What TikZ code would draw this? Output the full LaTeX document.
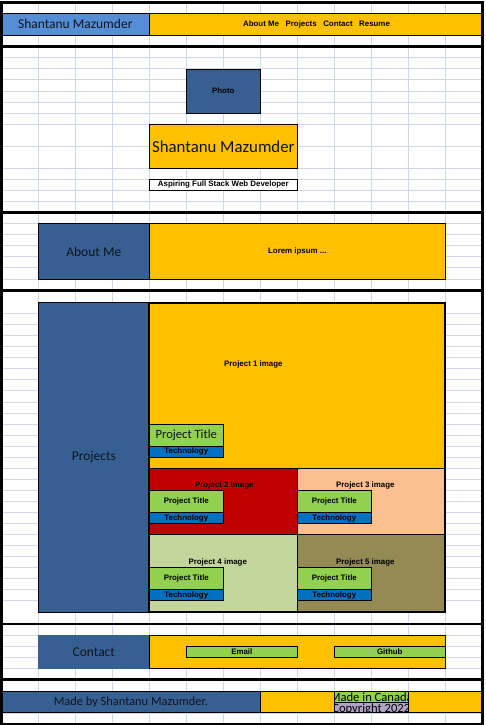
\documentclass[tikz,border=0pt]{standalone}
\usepackage{fontspec}
\setmainfont{Carlito}
\newfontfamily\pxfont{Liberation Sans}
\definecolor{gridc}{HTML}{D0D7E5}
\definecolor{hdrblue}{HTML}{558ED5}
\definecolor{dblue}{HTML}{376092}
\definecolor{gold}{HTML}{FFC000}
\definecolor{lgreen}{HTML}{92D050}
\definecolor{tblue}{HTML}{0070C0}
\definecolor{pred}{HTML}{C00000}
\definecolor{peach}{HTML}{FAC090}
\definecolor{sage}{HTML}{C3D69B}
\definecolor{olive}{HTML}{948A54}
\definecolor{lav}{HTML}{B3A2C7}
\definecolor{ink}{HTML}{0E1320}
\newcommand\mkcell[7][]{\node[rbx,#1,minimum width={#5-#3},minimum height={#6-#4},anchor=north west] (#2) at (#3,#4) {#7};}
\begin{document}
\begin{tikzpicture}[x=1pt,y=-1pt,
  rbx/.style={draw=black,line width=0.9pt,inner sep=0pt,outer sep=0pt},
  pxf/.style={font=\pxfont\bfseries\fontsize{7.9}{8}\selectfont,text=black,inner sep=0pt},
  cal/.style={font=\fontsize{13.5}{15}\selectfont,text=ink,inner sep=0pt},
  frame/.style={draw=black,line width=2.6pt},
  gline/.style={draw=gridc,line width=0.9pt}]
\useasboundingbox (0,0) rectangle (486,725);
\fill[white] (0,0) rectangle (486,725);
% grid
\foreach \gx in {38.3,75.3,112.3,149.3,186.3,223.3,260.3,297.3,334.3,371.3,408.3,445.3}
  \draw[gline] (\gx,2.7) -- (\gx,724);
\foreach \gy in {13.4,35,57.7,68.8,79.9,91,102.1,113.2,124.3,146,168.2,179.3,190.4,201.4,223.5,234.6,245.7,256.8,267.9,279.0,635,646.2,657.3,668.5,691.3,713}
  \draw[gline] (1.3,\gy) -- (482.3,\gy);
\foreach \k in {1,...,27}
  \draw[gline] (1.3,{302.5+11.05*\k}) -- (482.3,{302.5+11.05*\k});
% header
\mkcell[fill=hdrblue,cal]{hname}{1.3}{13.4}{149.3}{35}{Shantanu Mazumder}
\mkcell[fill=gold]{hnav}{149.3}{13.4}{482.3}{35}{}
\node[pxf] (nav) at (316.5,24.2) {About Me\hspace{6.5pt}Projects\hspace{6.5pt}Contact\hspace{6.5pt}Resume};
% intro
\mkcell[fill=dblue,pxf]{photo}{186.3}{69}{260.3}{113.2}{Photo}
\mkcell[fill=gold,cal,font=\fontsize{16.8}{18}\selectfont]{name}{149.3}{124.3}{297.3}{168.2}{Shantanu Mazumder}
\mkcell[fill=white,pxf]{tag}{149.3}{179.3}{297.3}{190.4}{Aspiring Full Stack Web Developer}
% about
\mkcell[fill=dblue,cal]{about}{38.3}{223.8}{149.3}{279.2}{About Me}
\mkcell[fill=gold,pxf]{lorem}{149.3}{223.8}{445.3}{279.2}{Lorem ipsum ...}
% projects
\mkcell[fill=dblue,cal]{projects}{38.3}{302.7}{149.3}{612}{Projects}
\mkcell[fill=gold]{p1}{149.3}{302.7}{445.3}{468.5}{}
\mkcell[fill=pred]{p2}{149.3}{468.5}{297.3}{534.5}{}
\mkcell[fill=peach]{p3}{297.3}{468.5}{445.3}{534.5}{}
\mkcell[fill=sage]{p4}{149.3}{534.5}{297.3}{612}{}
\mkcell[fill=olive]{p5}{297.3}{534.5}{445.3}{612}{}
\draw[black,line width=2pt] (p1.north west) rectangle (p5.south east);
\node[pxf] (p1img) at (253.3,364.3) {Project 1 image};
\node[pxf] (p2img) at (224.3,485) {Project 2 image};
\node[pxf] (p3img) at (365.3,485) {Project 3 image};
\node[pxf] (p4img) at (217.7,562.3) {Project 4 image};
\node[pxf] (p5img) at (365.3,562.3) {Project 5 image};
\mkcell[fill=lgreen,cal,font=\fontsize{12.6}{14}\selectfont]{t1}{149.3}{424.3}{223.3}{446.3}{Project Title}
\mkcell[fill=tblue,pxf]{k1}{149.3}{446.3}{223.3}{457.3}{Technology}
\mkcell[fill=lgreen,pxf]{t2}{149.3}{490.6}{223.3}{512.6}{Project Title}
\mkcell[fill=tblue,pxf]{k2}{149.3}{512.6}{223.3}{523.6}{Technology}
\mkcell[fill=lgreen,pxf]{t3}{297.3}{490.6}{371.3}{512.6}{Project Title}
\mkcell[fill=tblue,pxf]{k3}{297.3}{512.6}{371.3}{523.6}{Technology}
\mkcell[fill=lgreen,pxf]{t4}{149.3}{567.5}{223.3}{589.6}{Project Title}
\mkcell[fill=tblue,pxf]{k4}{149.3}{589.6}{223.3}{600.7}{Technology}
\mkcell[fill=lgreen,pxf]{t5}{297.3}{567.5}{371.3}{589.6}{Project Title}
\mkcell[fill=tblue,pxf]{k5}{297.3}{589.6}{371.3}{600.7}{Technology}
% contact
\mkcell[fill=dblue,draw=none,cal]{contact}{38.3}{635}{149.3}{668.5}{Contact}
\mkcell[fill=gold]{cbar}{149.3}{635}{445.3}{668.5}{}
\mkcell[fill=lgreen,pxf]{email}{186.3}{646.2}{297.3}{657.3}{Email}
\mkcell[fill=lgreen,pxf]{github}{334.3}{646.2}{445.3}{657.3}{Github}
% footer
\mkcell[fill=dblue,cal,font=\fontsize{12.4}{14}\selectfont]{madeby}{1.3}{691.3}{260.3}{712.8}{Made by Shantanu Mazumder.}
\mkcell[fill=gold]{fbar}{260.3}{691.3}{482.3}{712.8}{}
\mkcell[fill=lgreen,draw=none]{canbox}{334.3}{691.3}{408.3}{702}{}
\mkcell[fill=lav,draw=none]{copybox}{334.3}{702}{408.3}{712.8}{}
\begin{scope}
\clip (canbox.north west) rectangle (canbox.south east);
\node[cal,text=black,font=\fontsize{12.6}{13}\selectfont,anchor=base] (canada) at (371.3,701.2) {Made in Canada};
\end{scope}
\begin{scope}
\clip (copybox.north west) rectangle (copybox.south east);
\node[cal,text=black,font=\fontsize{12.6}{13}\selectfont,anchor=base] (copy) at (371.3,712.4) {Copyright 2022};
\end{scope}
\draw[black,line width=0.9pt] (canbox.north west) rectangle (copybox.south east);
\draw[black,line width=0.6pt] (canbox.south west) -- (canbox.south east);
% section frames
\draw[frame] (1.3,2.7) rectangle (482.3,46.6);
\draw[frame] (1.3,46.6) rectangle (482.3,212.3);
\draw[frame] (1.3,212.3) rectangle (482.3,290.6);
\draw[frame] (1.3,290.6) rectangle (482.3,623.8);
\draw[frame] (1.3,623.8) rectangle (482.3,679.6);
\draw[frame] (1.3,679.6) rectangle (482.3,724);
\end{tikzpicture}
\end{document}
